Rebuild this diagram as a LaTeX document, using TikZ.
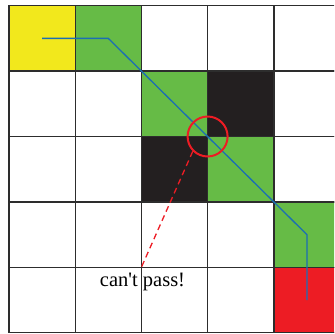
\documentclass[tikz,border=0pt]{standalone}
\usepackage{fontspec}
\setmainfont{Liberation Serif}[Ligatures=TeXOff]
\definecolor{cyel}{RGB}{242,232,28}
\definecolor{cgrn}{RGB}{102,187,70}
\definecolor{cblk}{RGB}{35,31,32}
\definecolor{cred}{RGB}{237,28,36}
\definecolor{cblue}{RGB}{27,110,180}
\definecolor{cgrid}{RGB}{45,45,45}
\tikzset{
  cell/.style={draw=cgrid, line width=1.4pt, minimum width=66.2pt, minimum height=65.4pt, inner sep=0pt, outer sep=0pt},
  route/.style={draw=cblue, line width=1.3pt},
  mark circle/.style={circle, draw=cred, line width=2pt, minimum size=40pt, inner sep=0pt},
  pointer/.style={draw=cred, line width=1.3pt, dash pattern=on 6pt off 4pt},
  label text/.style={font=\fontsize{20.5}{24}\selectfont, anchor=base, inner sep=0pt}
}
\begin{document}
\begin{tikzpicture}[x=1pt,y=-1pt]
\useasboundingbox (0,0) rectangle (334,334);
\clip (0,0) rectangle (334,334);
\foreach \r in {0,...,4}{
  \foreach \c in {0,...,4}{
    \node[cell] (c\r\c) at ({9+33.1+66.2*\c},{5.7+32.7+65.4*\r}) {};
  }
}
\node[cell, fill=cyel] at (c00) {};
\node[cell, fill=cgrn] at (c01) {};
\node[cell, fill=cgrn] at (c12) {};
\node[cell, fill=cblk] at (c13) {};
\node[cell, fill=cblk] at (c22) {};
\node[cell, fill=cgrn] at (c23) {};
\node[cell, fill=cgrn] at (c34) {};
\node[cell, fill=cred] at (c44) {};
\draw[route] (c00.center) -- (c01.center) -- (c34.center) -- (c44.center);
\node[mark circle] (blk) at (c12.south east) {};
\coordinate (tip) at (c32.south west);
\draw[pointer] (blk.225) -- (tip);
\node[label text] (msg) at (142.5,286.7) {can't pass!};
\end{tikzpicture}
\end{document}
